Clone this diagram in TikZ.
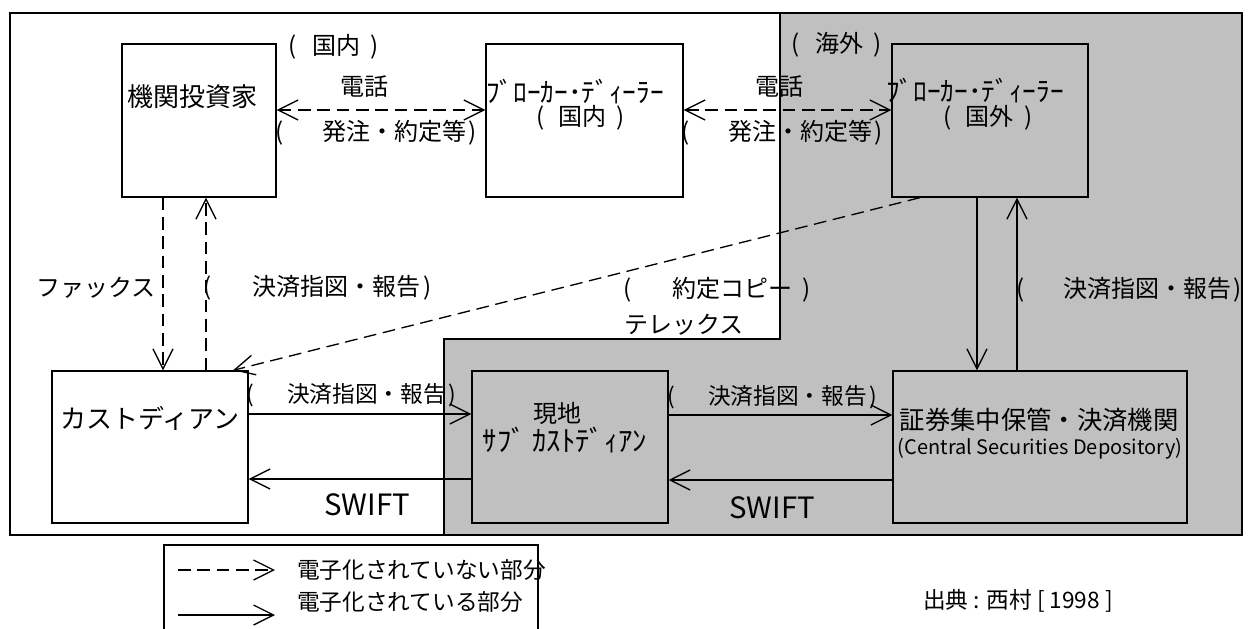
\documentclass[tikz,border=0pt]{standalone}
\usepackage{fontspec}
\setmainfont{Noto Sans CJK JP}
\usetikzlibrary{arrows.meta}
\definecolor{zone}{HTML}{C0C0C0}
\newcommand\parlbl[3]{(\hspace{#1}#2\hspace{#3})}
\tikzset{
  lbl/.style={font=\fontsize{18}{21}\selectfont, inner sep=0pt},
  plbl/.style={font=\fontsize{18}{21}\selectfont, inner sep=0pt, anchor=west},
  slbl/.style={font=\fontsize{17}{20}\selectfont, inner sep=0pt, anchor=west},
  big/.style={font=\fontsize{19.5}{22}\selectfont, inner sep=0pt},
  hwk/.style={font=\fontsize{20.5}{23}\selectfont, inner sep=0pt},
  boxnode/.style={draw, line width=1pt, inner sep=0pt, minimum width=#1},
  solidarrow/.style={line width=1pt, -{Straight Barb[length=15pt,width=15pt]}},
  dasharrow/.style={line width=1pt, dash pattern=on 9.5pt off 5pt, -{Straight Barb[length=15pt,width=15pt]}},
  dashboth/.style={line width=1pt, dash pattern=on 9.5pt off 5pt, {Straight Barb[length=15pt,width=15pt]}-{Straight Barb[length=15pt,width=15pt]}},
}
\begin{document}
\begin{tikzpicture}[x=0.75pt,y=-0.75pt]
\useasboundingbox (0,0) rectangle (1255,628);
% frame and overseas zone
\draw[line width=1pt] (10,13) rectangle (1242,535);
\draw[line width=1pt, fill=zone] (780,13) -- (1242,13) -- (1242,535) -- (444,535) -- (444,339) -- (780,339) -- cycle;

% boxes
\node[boxnode=115.5pt, minimum height=114.75pt, fill=white] (inv) at (199,120.5) {};
\node[boxnode=147.75pt, minimum height=114.75pt, fill=white] (bkd) at (584.5,120.5) {};
\node[boxnode=147pt, minimum height=114.75pt, fill=zone] (bkf) at (990,120.5) {};
\node[boxnode=147pt, minimum height=114pt, fill=white] (cus) at (150,447) {};
\node[boxnode=147pt, minimum height=114pt, fill=zone] (sub) at (570,447) {};
\node[boxnode=220.5pt, minimum height=114pt, fill=zone] (csd) at (1040,447) {};

% box texts
\node[big] (tinv) at (192,97) {機関投資家};
\node[hwk] (tbkd1) at (575,92) {ﾌﾞﾛｰｶｰ･ﾃﾞｨｰﾗｰ};
\node[plbl] (tbkd2) at (536,118) {\parlbl{10.5pt}{国内}{7.5pt}};
\node[hwk] (tbkf1) at (975,91) {ﾌﾞﾛｰｶｰ･ﾃﾞｨｰﾗｰ};
\node[plbl] (tbkf2) at (943,118) {\parlbl{10.5pt}{国外}{8pt}};
\node[big] (tcus) at (150,418) {カストディアン};
\node[lbl] (tsub1) at (557,413) {現地};
\node[font=\fontsize{21.5}{24}\selectfont, inner sep=0pt] (tsub2) at (565,440) {ｻﾌﾞ ｶｽﾄﾃﾞｨｱﾝ};
\node[font=\fontsize{19}{22}\selectfont, inner sep=0pt] (tcsd1) at (1039,420) {証券集中保管・決済機関};
\node[inner sep=0pt, font=\fontsize{15}{17}\selectfont] (tcsd2) at (1040,449) {(Central Securities Depository)};

% region labels
\node[plbl] (dom) at (288,47) {\parlbl{12pt}{国内}{7.5pt}};
\node[plbl] (ovs) at (791,45) {\parlbl{12pt}{海外}{7.5pt}};

% connectors
\draw[dashboth] ([yshift=7.875pt]inv.east) -- ([yshift=7.875pt]bkd.west);
\draw[dashboth] ([yshift=7.875pt]bkd.east) -- ([yshift=7.875pt]bkf.west);
\node[lbl] (tel1) at (364,87) {電話};
\node[plbl] (ord1) at (275,133) {\parlbl{29pt}{発注・約定等}{2pt}};
\node[lbl] (tel2) at (779,87) {電話};
\node[plbl] (ord2) at (681,133) {\parlbl{29pt}{発注・約定等}{2pt}};

\draw[dasharrow] ([xshift=-27pt]inv.south) -- ([xshift=-27pt]inv.south |- cus.north);
\draw[dasharrow] ([xshift=5.25pt]inv.south |- cus.north) -- ([xshift=5.25pt]inv.south);
\node[lbl] (fax) at (96,288) {ファックス};
\node[plbl] (rep1) at (203,288) {\parlbl{31pt}{決済指図・報告}{2pt}};

\draw[dasharrow] ([xshift=-52.5pt]bkf.south) -- ([xshift=62.25pt]cus.north);
\node[plbl] (copy) at (623,290) {\parlbl{31pt}{約定コピー}{7.5pt}};
\node[lbl] (telex) at (684,325) {テレックス};

\draw[solidarrow] ([xshift=-9.75pt]bkf.south) -- ([xshift=-9.75pt]bkf.south |- csd.north);
\draw[solidarrow] ([xshift=20.25pt]bkf.south |- csd.north) -- ([xshift=20.25pt]bkf.south);
\node[plbl] (rep2) at (1016,290) {\parlbl{29pt}{決済指図・報告}{2pt}};

\draw[solidarrow] ([yshift=24.75pt]cus.east) -- ([yshift=24.75pt]sub.west);
\draw[solidarrow] ([yshift=-24pt]sub.west) -- ([yshift=-24pt]cus.east);
\node[slbl] (rep3) at (246,395) {\parlbl{25pt}{決済指図・報告}{2pt}};
\node[inner sep=0pt, font=\fontsize{22}{25}\selectfont] (sw1) at (367,505) {SWIFT};

\draw[solidarrow] ([yshift=24pt]sub.east) -- ([yshift=24pt]csd.west);
\draw[solidarrow] ([yshift=-24.75pt]csd.west) -- ([yshift=-24.75pt]sub.east);
\node[slbl] (rep4) at (667,397) {\parlbl{25pt}{決済指図・報告}{2pt}};
\node[inner sep=0pt, font=\fontsize{22}{25}\selectfont] (sw2) at (772,508) {SWIFT};

% legend
\draw[line width=1pt] (164,640) -- (164,545) -- (538,545) -- (538,640);
\coordinate (la1) at (178,570);
\coordinate (lb1) at (275,570);
\coordinate (la2) at (178,615);
\coordinate (lb2) at (275,615);
\draw[dasharrow] (la1) -- (lb1);
\draw[solidarrow] (la2) -- (lb2);
\node[inner sep=0pt, anchor=west, font=\fontsize{17}{20}\selectfont] (leg1) at (297,570) {電子化されていない部分};
\node[inner sep=0pt, anchor=west, font=\fontsize{17}{20}\selectfont] (leg2) at (297,602) {電子化されている部分};

\node[inner sep=0pt, font=\fontsize{17}{20}\selectfont] (src) at (1018,601) {出典 : 西村 [ 1998 ]};
\end{tikzpicture}
\end{document}
